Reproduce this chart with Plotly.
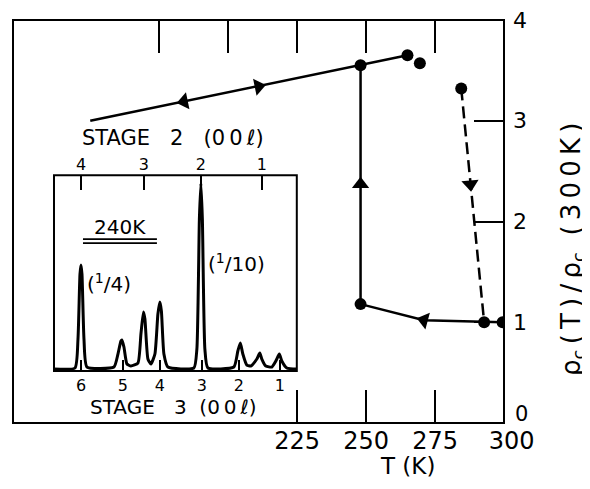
import plotly.graph_objects as go

# ---------------- main data (T in K, rho_c(T)/rho_c(300K)) ----------------
upper_T = [150, 248, 265]
upper_rho = [3.00, 3.55, 3.65]
loop_T = [248, 248, 271, 292.8, 299.5]
loop_rho = [3.55, 1.18, 1.02, 1.00, 1.00]
dash_T = [284.5, 292.8]
dash_rho = [3.32, 1.00]
dots_T = [248, 265, 269.5, 284.5, 248, 292.8, 299.5]
dots_rho = [3.55, 3.65, 3.57, 3.32, 1.18, 1.00, 1.00]
arrow_T = [184, 211, 248, 271, 287.8]
arrow_rho = [3.19, 3.34, 2.37, 1.02, 2.37]
arrow_sym = ["triangle-left", "triangle-right", "triangle-up", "triangle-left", "triangle-down"]
arrow_ang = [-11.6, -11.6, 0, 15, -5.6]

x_ticks = [225, 250, 275, 300]
x_tick_text = ["225", "250", "275", "\u00a0\u00a0300"]
x_top_ticks = [175, 200, 225, 250, 275]
y_ticks = [1, 2, 3, 4]

# ---------------- inset: diffraction profile at 240 K ----------------
inset_pos = [0, 21, 24, 26, 27, 28, 30, 33, 60, 64, 67, 68, 70, 73, 77, 84, 87, 89.5,
             91, 94, 97, 101, 104, 106, 107.5, 110, 114, 140, 143, 145.5, 147, 148.5,
             151, 154, 180, 184, 186.5, 189, 193, 197, 203, 206, 208, 212, 218, 222,
             225.5, 228, 233, 243]
inset_int = [0, 1, 30, 95, 104, 95, 30, 2, 2, 15, 28, 29, 22, 5, 3, 6, 35, 57,
             50, 10, 5, 15, 55, 67, 58, 15, 2, 1, 20, 150, 186, 150,
             20, 1, 2, 18, 26, 15, 4, 3, 10, 16, 10, 3, 2, 8,
             15, 8, 1, 0]
stage3_pos = [27, 69, 106, 148, 185, 226]
stage3_lab = ["6", "5", "4", "3", "2", "1"]
stage2_pos = [27, 90, 147, 208]
stage2_lab = ["4", "3", "2", "1"]

FONT = "DejaVu Sans"
NB = "\u00a0"
TH = "\u2009"
fig = go.Figure()

# main curves
fig.add_trace(go.Scatter(x=upper_T, y=upper_rho, mode="lines",
                         line=dict(color="black", width=2.5), xaxis="x", yaxis="y"))
fig.add_trace(go.Scatter(x=loop_T, y=loop_rho, mode="lines",
                         line=dict(color="black", width=2.5), xaxis="x", yaxis="y"))
fig.add_trace(go.Scatter(x=dash_T, y=dash_rho, mode="lines",
                         line=dict(color="black", width=2.5, dash="12px,6px"), xaxis="x", yaxis="y"))
fig.add_trace(go.Scatter(x=dots_T, y=dots_rho, mode="markers",
                         marker=dict(color="black", size=12), xaxis="x", yaxis="y"))
fig.add_trace(go.Scatter(x=arrow_T, y=arrow_rho, mode="markers",
                         marker=dict(color="black", size=15, symbol=arrow_sym, angle=arrow_ang,
                                     line=dict(width=0)),
                         xaxis="x", yaxis="y"))
# invisible anchor trace so the top tick axis is drawn
fig.add_trace(go.Scatter(x=[x_top_ticks[0]], y=[y_ticks[1]], mode="markers",
                         marker=dict(opacity=0), xaxis="x4", yaxis="y", hoverinfo="skip"))

# inset profile
fig.add_trace(go.Scatter(x=inset_pos, y=inset_int, mode="lines",
                         line=dict(color="black", width=3, shape="spline", smoothing=0.5),
                         xaxis="x2", yaxis="y2"))
fig.add_trace(go.Scatter(x=[stage2_pos[0]], y=[inset_int[0]], mode="markers",
                         marker=dict(opacity=0), xaxis="x3", yaxis="y2", hoverinfo="skip"))

fig.update_layout(
    width=582, height=473,
    margin=dict(l=5, r=86, t=12, b=58, autoexpand=False),
    paper_bgcolor="white", plot_bgcolor="white",
    showlegend=False,
    font=dict(family=FONT, color="black"),
    xaxis=dict(range=[122, 300], domain=[0, 1], anchor="y", tickvals=x_ticks,
               ticktext=x_tick_text, ticks="inside", ticklen=33,
               tickwidth=2, tickcolor="black", showgrid=False, zeroline=False,
               showline=False, automargin=False, ticklabeloverflow="allow",
               tickfont=dict(size=24, family=FONT), ticklabelstandoff=1),
    xaxis4=dict(range=[122, 300], overlaying="x", side="top", anchor="y",
                tickvals=x_top_ticks, ticks="inside", ticklen=33, tickwidth=2,
                tickcolor="black", showticklabels=False, showgrid=False, zeroline=False,
                automargin=False),
    yaxis=dict(range=[0, 4], domain=[0, 1], anchor="x", side="right", tickvals=y_ticks,
               ticks="inside", ticklen=30, tickwidth=2, tickcolor="black",
               showgrid=False, zeroline=False, showline=False, automargin=False,
               ticklabeloverflow="allow",
               tickfont=dict(size=22, family=FONT), ticklabelstandoff=8),
    xaxis2=dict(range=[0, 243], domain=[0.0835, 0.578], anchor="y2",
                tickvals=stage3_pos, ticktext=stage3_lab, ticks="inside", ticklen=11,
                tickwidth=1.5, tickcolor="black", showgrid=False, zeroline=False,
                showline=False, automargin=False,
                tickfont=dict(size=16, family=FONT), ticklabelstandoff=3),
    xaxis3=dict(range=[0, 243], overlaying="x2", side="top", anchor="y2",
                tickvals=stage2_pos, ticktext=stage2_lab, ticks="inside", ticklen=15,
                tickwidth=1.5, tickcolor="black", showgrid=False, zeroline=False,
                automargin=False, tickfont=dict(size=16, family=FONT), ticklabelstandoff=1),
    yaxis2=dict(range=[-2, 194], domain=[0.129, 0.615], anchor="x2", automargin=False,
                showticklabels=False, ticks="", showgrid=False, zeroline=False),
)

# frames
fig.add_shape(type="rect", xref="paper", yref="paper", x0=0, x1=1, y0=0, y1=1,
              line=dict(color="black", width=2), layer="above")
fig.add_shape(type="rect", xref="x2 domain", yref="y2 domain", x0=0, x1=1, y0=0, y1=1,
              line=dict(color="black", width=2), layer="above")
# double underline under 240K
for yy in [130, 126]:
    fig.add_shape(type="line", xref="x2", yref="y2", x0=29, x1=103, y0=yy, y1=yy,
                  line=dict(color="black", width=1.8))

stage_tail = "(0" + TH + "0" + TH + "ℓ)"
ann = [
    dict(text="240K", x=66, y=142, xref="x2", yref="y2", size=20),
    dict(text="(<sup>1</sup>/4)", x=55, y=86, xref="x2", yref="y2", size=20),
    dict(text="(<sup>1</sup>/10)", x=183, y=106, xref="x2", yref="y2", size=20),
    dict(text="STAGE" + NB * 3 + "2" + NB * 3 + stage_tail, x=(173 - 13) / 491,
         y=(423 - 138) / 403, xref="paper", yref="paper", size=21),
    dict(text="STAGE" + NB * 3 + "3" + NB * 2 + stage_tail, x=(173 - 13) / 491,
         y=(423 - 407) / 403, xref="paper", yref="paper", size=20),
    dict(text="0", x=(521 - 13) / 491, y=(423 - 414) / 403, xref="paper", yref="paper",
         size=21),
]
for a in ann:
    fig.add_annotation(text=a["text"], x=a["x"], y=a["y"], xref=a["xref"], yref=a["yref"],
                       xanchor="center", yanchor="middle", showarrow=False,
                       font=dict(size=a["size"], family=FONT, color="black"))

fig.add_annotation(text="T (K)", x=265, y=(423 - 466) / 403, xref="x", yref="paper",
                   xanchor="center", yanchor="middle", showarrow=False,
                   font=dict(size=23, family=FONT, color="black"))
y_title = TH.join(["ρ<sub>c</sub>", "(", "T", ")", "/", "ρ<sub>c</sub>"]) + NB * 2 + \
    TH.join(["(", "3", "0", "0", "K", ")"])
fig.add_annotation(text=y_title, textangle=-90,
                   xref="paper", yref="paper", x=(572 - 13) / 491, y=(423 - 250) / 403,
                   xanchor="center", yanchor="middle",
                   showarrow=False, font=dict(size=26, family=FONT, color="black"))

fig.write_html("out.html")
